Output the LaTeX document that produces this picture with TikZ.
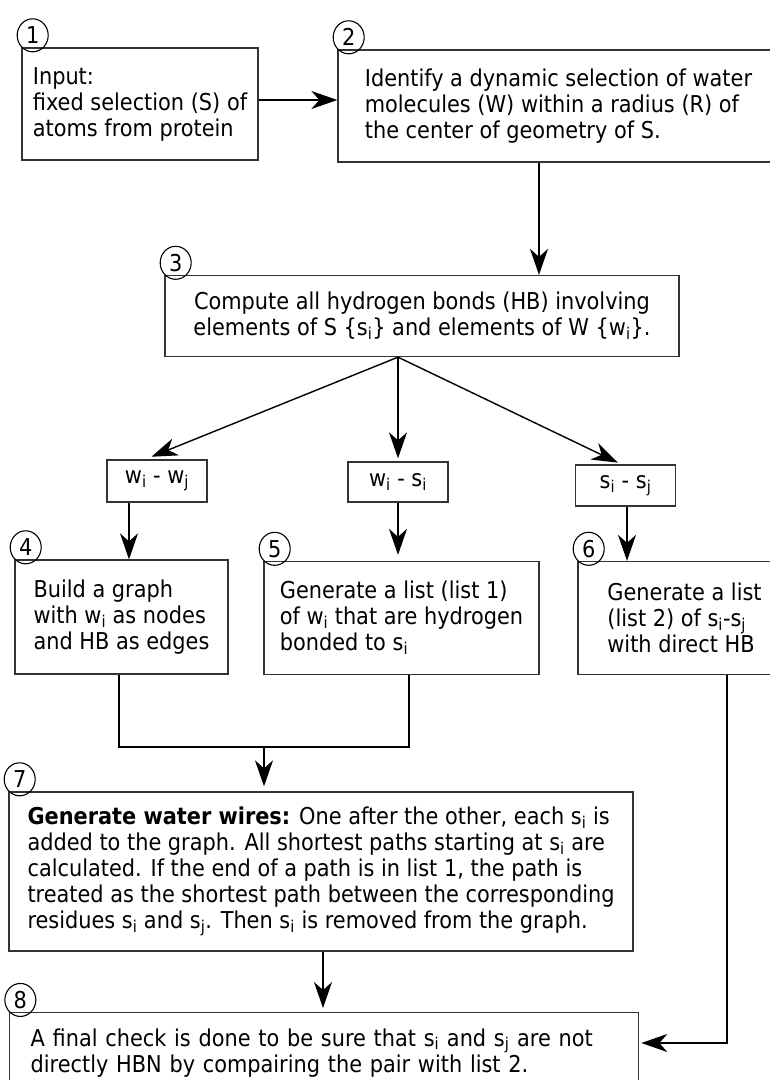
\documentclass[tikz,border=0pt]{standalone}
\usepackage{fontspec}
\setmainfont{DejaVu Sans Condensed}
\usetikzlibrary{arrows.meta,calc,shapes.geometric}
\tikzset{
  box/.style={draw=black!80, line width=1.3pt, inner sep=0pt, align=left},
  num/.style={draw, ellipse, minimum width=31pt, minimum height=33pt, inner sep=0pt, anchor=south west, line width=1.1pt},
  arr/.style={-{Stealth[length=26pt,width=18pt,inset=8pt]}, line width=1.4pt},
  ln/.style={line width=1.4pt}
}
\begin{document}
\begin{tikzpicture}[x=1pt, y=-1pt, font=\fontsize{23.2}{26}\selectfont]
\useasboundingbox (0,0) rectangle (770,1080);
% boxes
\node[box, minimum width=236pt, minimum height=112pt] (b1) at (140,104) {Input:\\fixed selection (S) of\\atoms from protein};
\node[box, minimum width=441pt, minimum height=112pt] (b2) at (558.5,106) {Identify a dynamic selection of water\\molecules (W) within a radius (R) of\\the center of geometry of S.};
\node[box, align=center, minimum width=514pt, minimum height=81pt] (b3) at (422,316) {Compute all hydrogen bonds (HB) involving\\elements of S \{s\textsubscript{i}\} and elements of W \{w\textsubscript{i}\}.};
\node[box, minimum width=100pt, minimum height=42pt] (bA) at (157,481) {w\textsubscript{i} - w\textsubscript{j}};
\node[box, minimum width=100pt, minimum height=40pt] (bB) at (398,482) {w\textsubscript{i} - s\textsubscript{i}};
\node[box, minimum width=100pt, minimum height=41pt] (bC) at (625.5,485.5) {s\textsubscript{i} - s\textsubscript{j}};
\node[box, minimum width=213pt, minimum height=114pt] (b4) at (121.5,617) {Build a graph\\with w\textsubscript{i} as nodes\\and HB as edges};
\node[box, minimum width=275pt, minimum height=113pt] (b5) at (401.5,618) {Generate a list (list 1)\\of w\textsubscript{i} that are hydrogen\\bonded to s\textsubscript{i}};
\node[box, minimum width=213pt, minimum height=113pt] (b6) at (684.5,618) {Generate a list\\(list 2) of s\textsubscript{i}-s\textsubscript{j}\\with direct HB};
\node[box, minimum width=624pt, minimum height=159pt] (b7) at (321,871.5) {\textbf{Generate water wires:} One after the other, each s\textsubscript{i} is\\added to the graph. All shortest paths starting at s\textsubscript{i} are\\calculated. If the end of a path is in list 1, the path is\\treated as the shortest path between the corresponding\\residues s\textsubscript{i} and s\textsubscript{j}. Then s\textsubscript{i} is removed from the graph.};
\node[box, anchor=north west, text width=587pt, inner xsep=21pt, inner ysep=11pt, minimum height=80pt] (b8) at (9,1012) {A final check is done to be sure that s\textsubscript{i} and s\textsubscript{j} are not\\directly HBN by compairing the pair with list 2.};
% step numbers
\node[num] (n1) at (b1.north west) {1};
\node[num] (n2) at (b2.north west) {2};
\node[num] (n3) at (b3.north west) {3};
\node[num] (n4) at (b4.north west) {4};
\node[num] (n5) at (b5.north west) {5};
\node[num] (n6) at (b6.north west) {6};
\node[num] (n7) at (b7.north west) {7};
\node[num] (n8) at (b8.north west) {8};
% helper coordinates
\coordinate (k23) at (539,0);
\coordinate (k3) at (398,0);
\coordinate (kA) at (129,0);
\coordinate (kC) at (627,0);
\coordinate (k7) at (323,0);
\coordinate (m4) at (119,747);
\coordinate (m5) at (409,747);
\coordinate (m7) at (264,747);
\coordinate (k6) at (727,1043);
% connectors
\draw[arr] ($(b1.east)+(0,-4)$) -- ($(b2.west)+(0,-6)$);
\draw[arr] (b2.south -| k23) -- (b3.north -| k23);
\draw[arr, shorten >=7pt] (b3.south -| k3) -- ($(bA.north)+(-12,0)$);
\draw[arr, shorten >=3pt] (b3.south -| k3) -- (bB.north -| k3);
\draw[arr, shorten >=4pt] (b3.south -| k3) -- ($(bC.north)+(-4,0)$);
\draw[arr] (bA.south -| kA) -- (b4.north -| kA);
\draw[arr, shorten >=6pt] (bB.south -| k3) -- (b5.north -| k3);
\draw[arr] (bC.south -| kC) -- (b6.north -| kC);
\draw[ln] (b4.south -| m4) -- (m4) -- (m5) -- (b5.south -| m5);
\draw[arr, shorten >=5pt] (m7) -- (b7.north -| m7);
\draw[arr, shorten >=4pt] (b7.south -| k7) -- (b8.north -| k7);
\draw[arr, shorten >=2pt] (b6.south -| k6) -- (k6) -- (b8.east |- k6);
\end{tikzpicture}
\end{document}
